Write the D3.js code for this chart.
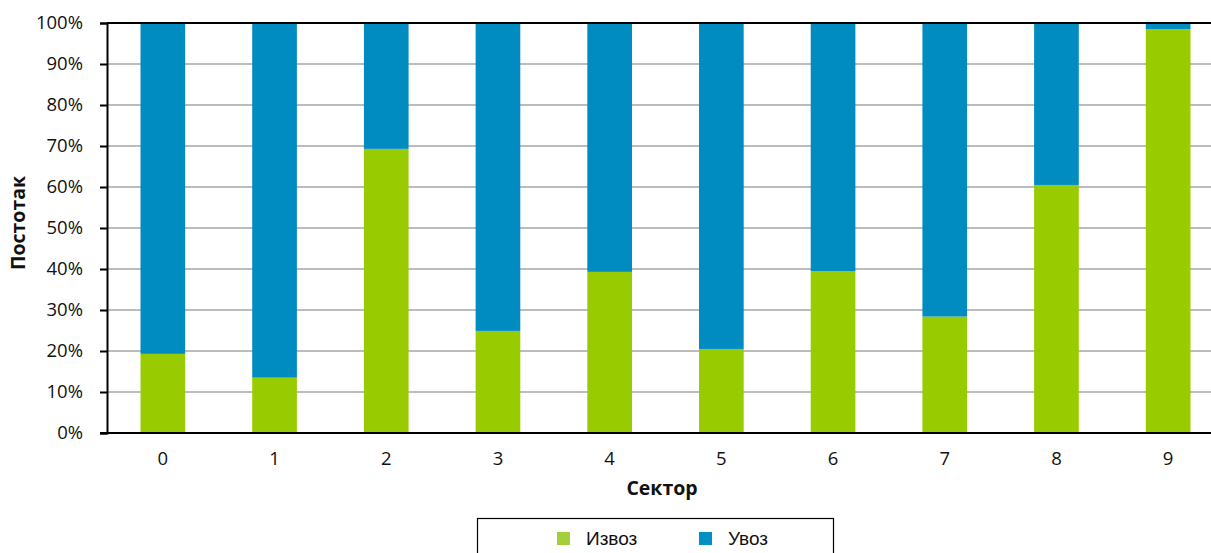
<!DOCTYPE html>
<html><head><meta charset="utf-8">
<script src="https://cdn.jsdelivr.net/npm/d3@7/dist/d3.min.js"></script>
<style>body{margin:0;background:#fff;} svg{display:block;}</style>
</head><body>
<svg id="c" width="1211" height="553"></svg>
<script>
const categories = ["0","1","2","3","4","5","6","7","8","9"];
const izvoz = [19.3, 13.5, 69.3, 24.9, 39.3, 20.5, 39.5, 28.4, 60.5, 98.5];
const uvoz = [80.7, 86.5, 30.7, 75.1, 60.7, 79.5, 60.5, 71.6, 39.5, 1.5];
const yTicks = [0,10,20,30,40,50,60,70,80,90,100];
const seriesNames = ["Извоз","Увоз"];

const svg = d3.select("#c");
const font = "'Open Sans', sans-serif";
const L = 107, R = 1224, T = 23, B = 433;
const x = d3.scaleBand().domain(categories).range([L, R]).paddingInner(0.6).paddingOuter(0.3);
const y = d3.scaleLinear().domain([0,100]).range([B, T]);
const colors = ["#99cc00", "#008cc1"];
const legendColors = ["#a5cf3a", "#0090c4"];

// gridlines
svg.append("g").selectAll("line").data(yTicks.filter(d => d > 0 && d < 100)).join("line")
  .attr("x1", L).attr("x2", 1211).attr("y1", d => y(d)).attr("y2", d => y(d))
  .attr("stroke", "#a6a6a6").attr("stroke-width", 1.5);

const stackData = categories.map((c,i) => ({cat:c, izvoz: izvoz[i], uvoz: uvoz[i]}));
const stack = d3.stack().keys(["izvoz","uvoz"])(stackData);
svg.append("g").selectAll("g").data(stack).join("g").attr("fill", (d,i) => colors[i])
  .selectAll("rect").data(d => d).join("rect")
  .attr("x", d => x(d.data.cat)).attr("width", x.bandwidth())
  .attr("y", d => y(Math.min(100, d[1]))).attr("height", d => y(d[0]) - y(Math.min(100, d[1])));

// top border
svg.append("line").attr("x1", L).attr("x2", 1211).attr("y1", y(100)).attr("y2", y(100))
  .attr("stroke", "#000").attr("stroke-width", 2);

// y axis
const yAxis = svg.append("g").attr("transform", `translate(${L},0)`)
  .call(d3.axisLeft(y).tickValues(yTicks).tickFormat(d => d + "%").tickSize(7).tickPadding(17));
yAxis.select(".domain").attr("stroke", "#000").attr("stroke-width", 2);
yAxis.selectAll(".tick line").attr("stroke", "#000").attr("stroke-width", 2);
yAxis.selectAll("text").attr("font-family", font).attr("font-size", 18.5).attr("fill", "#111");

// x axis
const xAxis = svg.append("g").attr("transform", `translate(0,${B})`)
  .call(d3.axisBottom(x).tickSize(0).tickPadding(19));
xAxis.select(".domain").attr("d", `M${L - 7},0H1211`).attr("stroke", "#000").attr("stroke-width", 2);
xAxis.selectAll("text").attr("font-family", font).attr("font-size", 18.5).attr("fill", "#111");

// axis titles
svg.append("text").attr("x", 662).attr("y", 495).attr("text-anchor", "middle")
  .attr("font-family", font).attr("font-weight", "bold").attr("font-size", 19.5).attr("fill", "#111").text("Сектор");
svg.append("text").attr("transform", `translate(25,223) rotate(-90)`).attr("text-anchor", "middle")
  .attr("font-family", font).attr("font-weight", "bold").attr("font-size", 19.5).attr("fill", "#111").text("Постотак");

// legend
svg.append("rect").attr("x", 477.5).attr("y", 518.5).attr("width", 356).attr("height", 40)
  .attr("fill", "#fff").attr("stroke", "#000").attr("stroke-width", 1.2);
const lx = [557, 699];
seriesNames.forEach((n, i) => {
  svg.append("rect").attr("x", lx[i]).attr("y", 532).attr("width", 13).attr("height", 13).attr("fill", legendColors[i]);
  svg.append("text").attr("x", lx[i] + 29).attr("y", 544.5).attr("font-family", "'Liberation Sans', Arial, sans-serif")
    .attr("font-size", 19).attr("fill", "#111").text(n);
});
</script>
</body></html>
